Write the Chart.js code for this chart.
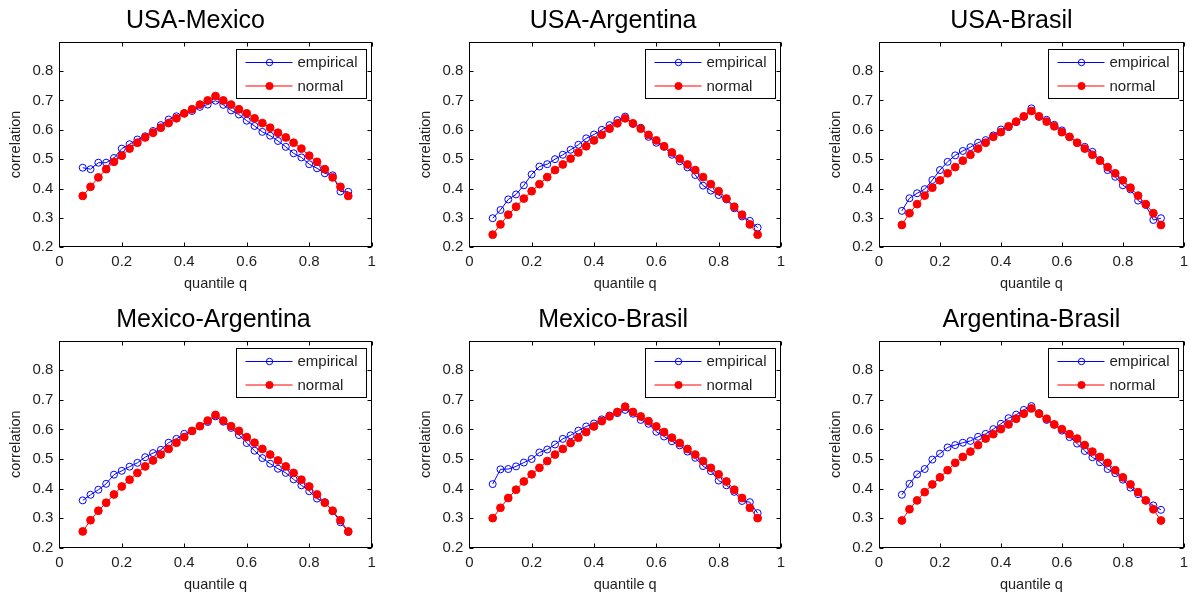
<!DOCTYPE html>
<html><head><meta charset="utf-8">
<script src="https://cdn.jsdelivr.net/npm/chart.js@4.4.0/dist/chart.umd.min.js"></script>
<style>
html,body{margin:0;padding:0;background:#fff;width:1194px;height:597px;overflow:hidden;}
canvas{position:absolute;}
</style></head><body>
<script>
// ---------------- data ----------------
const quantiles = [0.075,0.1,0.125,0.15,0.175,0.2,0.225,0.25,0.275,0.3,0.325,0.35,0.375,0.4,0.425,0.45,0.475,0.5,
                   0.525,0.55,0.575,0.6,0.625,0.65,0.675,0.7,0.725,0.75,0.775,0.8,0.825,0.85,0.875,0.9,0.925];
const xTicks = [0,0.2,0.4,0.6,0.8,1];
const yTicks = [0.2,0.3,0.4,0.5,0.6,0.7,0.8];
const panelTitles = ['USA-Mexico','USA-Argentina','USA-Brasil','Mexico-Argentina','Mexico-Brasil','Argentina-Brasil'];
const seriesNames = ['empirical','normal'];

const usaMexicoEmpirical = [0.471,0.466,0.488,0.488,0.504,0.536,0.551,0.567,0.578,0.596,0.616,0.635,0.646,0.656,0.664,0.678,0.686,0.699,
                            0.685,0.666,0.652,0.631,0.613,0.593,0.580,0.562,0.542,0.520,0.506,0.483,0.469,0.452,0.445,0.390,0.389];
const usaMexicoNormal = [0.375,0.406,0.438,0.466,0.491,0.512,0.536,0.556,0.574,0.590,0.607,0.623,0.639,0.656,0.670,0.686,0.700,0.715,
                         0.700,0.686,0.670,0.656,0.639,0.623,0.607,0.590,0.574,0.556,0.536,0.512,0.491,0.466,0.438,0.406,0.375];

const usaArgentinaEmpirical = [0.299,0.327,0.363,0.380,0.411,0.448,0.475,0.483,0.500,0.515,0.532,0.549,0.571,0.584,0.600,0.616,0.633,0.645,
                               0.620,0.607,0.576,0.556,0.542,0.515,0.493,0.472,0.446,0.410,0.393,0.378,0.363,0.333,0.305,0.290,0.267];
const usaArgentinaNormal = [0.243,0.278,0.311,0.338,0.366,0.391,0.415,0.439,0.463,0.482,0.502,0.523,0.544,0.564,0.583,0.604,0.622,0.639,
                            0.622,0.604,0.583,0.564,0.544,0.523,0.502,0.482,0.463,0.439,0.415,0.391,0.366,0.338,0.311,0.278,0.243];

const usaBrasilEmpirical = [0.324,0.367,0.384,0.398,0.429,0.463,0.491,0.513,0.528,0.541,0.556,0.565,0.581,0.601,0.609,0.626,0.644,0.673,
                            0.644,0.634,0.617,0.598,0.576,0.556,0.542,0.525,0.497,0.463,0.440,0.411,0.397,0.359,0.344,0.293,0.299];
const usaBrasilNormal = [0.276,0.316,0.347,0.376,0.403,0.428,0.452,0.473,0.495,0.515,0.536,0.556,0.576,0.592,0.612,0.628,0.646,0.664,
                         0.646,0.628,0.612,0.592,0.576,0.556,0.536,0.515,0.495,0.473,0.452,0.428,0.403,0.376,0.347,0.316,0.276];

const mexicoArgentinaEmpirical = [0.360,0.379,0.396,0.416,0.447,0.460,0.474,0.487,0.506,0.520,0.531,0.555,0.568,0.585,0.595,0.611,0.625,0.644,
                                  0.626,0.605,0.581,0.554,0.528,0.503,0.484,0.467,0.453,0.431,0.411,0.391,0.366,0.354,0.324,0.286,0.253];
const mexicoArgentinaNormal = [0.255,0.293,0.325,0.352,0.380,0.407,0.430,0.453,0.475,0.495,0.515,0.534,0.555,0.574,0.595,0.611,0.630,0.649,
                               0.630,0.611,0.595,0.574,0.555,0.534,0.515,0.495,0.475,0.453,0.430,0.407,0.380,0.352,0.325,0.293,0.255];

const mexicoBrasilEmpirical = [0.415,0.465,0.466,0.475,0.488,0.500,0.522,0.532,0.549,0.568,0.580,0.596,0.610,0.620,0.634,0.647,0.655,0.666,
                               0.653,0.632,0.619,0.592,0.576,0.560,0.546,0.525,0.504,0.476,0.459,0.427,0.411,0.389,0.358,0.354,0.317];
const mexicoBrasilNormal = [0.300,0.335,0.368,0.396,0.424,0.448,0.470,0.493,0.515,0.534,0.554,0.572,0.591,0.610,0.628,0.644,0.659,0.677,
                            0.659,0.644,0.628,0.610,0.591,0.572,0.554,0.534,0.515,0.493,0.470,0.448,0.424,0.396,0.368,0.335,0.300];

const argentinaBrasilEmpirical = [0.379,0.416,0.448,0.466,0.498,0.518,0.539,0.547,0.555,0.561,0.575,0.585,0.601,0.619,0.638,0.650,0.666,0.679,
                                  0.655,0.632,0.616,0.596,0.574,0.552,0.527,0.506,0.489,0.466,0.452,0.430,0.403,0.381,0.360,0.343,0.328];
const argentinaBrasilNormal = [0.292,0.330,0.360,0.388,0.414,0.438,0.462,0.487,0.507,0.525,0.547,0.569,0.584,0.601,0.617,0.636,0.653,0.671,
                               0.653,0.636,0.617,0.601,0.584,0.569,0.547,0.525,0.507,0.487,0.462,0.438,0.414,0.388,0.360,0.330,0.292];

const empiricalSeries = [usaMexicoEmpirical,usaArgentinaEmpirical,usaBrasilEmpirical,mexicoArgentinaEmpirical,mexicoBrasilEmpirical,argentinaBrasilEmpirical];
const normalSeries = [usaMexicoNormal,usaArgentinaNormal,usaBrasilNormal,mexicoArgentinaNormal,mexicoBrasilNormal,argentinaBrasilNormal];

// ---------------- layout (canvas box + plot-area edges inside it) ----------------
const layouts = [
  {x:0,   y:0,   w:400, h:297, L:59.3, R:371.7, T:41.7, B:247.3, shift:-20},
  {x:400, y:0,   w:400, h:297, L:69.3, R:381.0, T:41.7, B:247.3, shift:-12},
  {x:800, y:0,   w:394, h:297, L:79.0, R:390.0, T:41.7, B:247.3, shift:-20},
  {x:0,   y:297, w:400, h:300, L:59.3, R:371.7, T:43.7, B:250.7, shift:-2},
  {x:400, y:297, w:400, h:300, L:69.3, R:381.0, T:43.7, B:250.7, shift:-12},
  {x:800, y:297, w:394, h:300, L:79.0, R:390.0, T:43.7, B:250.7, shift:0}
];

const FONT = '"Liberation Sans", Arial, sans-serif';
const TEXT = '#1e1e1e';
const BLUE = '#0000ff';
const RED = '#ff0000';

const decor = {
  id: 'decor',
  afterDatasetsDraw(chart) {
    const {ctx, chartArea: a, scales: {x, y}} = chart;
    const o = chart.options.plugins.decor;
    ctx.save();
    const l = Math.round(a.left) + 0.5, r = Math.round(a.right) - 0.5;
    const t = Math.round(a.top) + 0.5, b = Math.round(a.bottom) - 0.5;
    ctx.strokeStyle = '#000';
    ctx.lineWidth = 1;
    ctx.beginPath();
    const tl = 4;
    x.ticks.forEach(tk => {
      const px = Math.round(x.getPixelForValue(tk.value)) + 0.5;
      ctx.moveTo(px, b); ctx.lineTo(px, b - tl);
      ctx.moveTo(px, t); ctx.lineTo(px, t + tl);
    });
    y.ticks.forEach(tk => {
      const py = Math.round(y.getPixelForValue(tk.value)) + 0.5;
      ctx.moveTo(l, py); ctx.lineTo(l + tl, py);
      ctx.moveTo(r, py); ctx.lineTo(r - tl, py);
    });
    ctx.stroke();
    ctx.strokeRect(l, t, r - l, b - t);

    // legend box
    const bw = 130, bh = 49;
    const bx = Math.round(a.right - 6 - bw) + 0.5, by = Math.round(a.top + 7) + 0.5;
    ctx.fillStyle = '#fff';
    ctx.fillRect(bx, by, bw, bh);
    ctx.strokeRect(bx, by, bw, bh);
    const rows = [chart.data.datasets.find(d => d.label === seriesNames[0]), chart.data.datasets.find(d => d.label === seriesNames[1])];
    rows.forEach((ds, i) => {
      const cy = by + 13 + i * 23.5;
      ctx.strokeStyle = ds.borderColor;
      ctx.lineWidth = 1;
      ctx.beginPath();
      ctx.moveTo(bx + 9, cy); ctx.lineTo(bx + 56, cy);
      ctx.stroke();
      ctx.beginPath();
      ctx.arc(bx + 33, cy, i === 0 ? 3.2 : 3.6, 0, Math.PI * 2);
      if (i === 1) { ctx.fillStyle = ds.backgroundColor; ctx.fill(); }
      ctx.stroke();
      ctx.fillStyle = TEXT;
      ctx.font = '15px ' + FONT;
      ctx.textAlign = 'left';
      ctx.textBaseline = 'middle';
      ctx.fillText(ds.label, bx + 61, cy + 0.5);
    });

    // title
    ctx.fillStyle = '#000';
    ctx.font = '25px ' + FONT;
    ctx.textAlign = 'center';
    ctx.textBaseline = 'alphabetic';
    ctx.fillText(o.title, (a.left + a.right) / 2 + o.shift, a.top - 14);
    ctx.restore();
  }
};

const fmt = v => String(Math.round(v * 10) / 10);

layouts.forEach((lo, i) => {
  const cv = document.createElement('canvas');
  cv.width = lo.w; cv.height = lo.h;
  cv.style.left = lo.x + 'px'; cv.style.top = lo.y + 'px';
  cv.style.width = lo.w + 'px'; cv.style.height = lo.h + 'px';
  document.body.appendChild(cv);

  const empirical = empiricalSeries[i], normal = normalSeries[i];
  new Chart(cv.getContext('2d'), {
    type: 'line',
    data: {
      datasets: [
        {
          label: seriesNames[1],
          data: quantiles.map((q, k) => ({x: q, y: normal[k]})),
          borderColor: RED, backgroundColor: RED, borderWidth: 1,
          pointRadius: 3.9, pointBorderWidth: 1, pointBackgroundColor: RED, pointBorderColor: RED,
          tension: 0, order: 0
        },
        {
          label: seriesNames[0],
          data: quantiles.map((q, k) => ({x: q, y: empirical[k]})),
          borderColor: BLUE, backgroundColor: 'rgba(0,0,0,0)', borderWidth: 1,
          pointRadius: 3.5, pointBorderWidth: 1, pointBackgroundColor: 'rgba(0,0,0,0)', pointBorderColor: BLUE,
          tension: 0, order: 1
        }
      ]
    },
    options: {
      responsive: false,
      animation: false,
      devicePixelRatio: 1,
      layout: {padding: {left: 0, top: lo.T, right: lo.w - lo.R, bottom: 0}},
      plugins: {
        legend: {display: false},
        title: {display: false},
        tooltip: {enabled: false},
        decor: {title: panelTitles[i], shift: lo.shift}
      },
      scales: {
        x: {
          type: 'linear', min: 0, max: 1,
          afterBuildTicks: s => { s.ticks = xTicks.map(v => ({value: v})); },
          afterFit: s => { s.height = lo.h - lo.B; },
          grid: {display: false, drawTicks: false},
          border: {display: false},
          ticks: {callback: fmt, color: TEXT, font: {family: FONT, size: 15}, padding: 6, maxRotation: 0, autoSkip: false},
          title: {display: true, text: 'quantile q', color: TEXT, font: {family: FONT, size: 14.5}, padding: {top: 0, bottom: (lo.h - lo.B) - 37 - 8.7}}
        },
        y: {
          type: 'linear', min: 0.2, max: 0.9,
          afterBuildTicks: s => { s.ticks = yTicks.map(v => ({value: v})); },
          afterFit: s => { s.width = lo.L; },
          grid: {display: false, drawTicks: false},
          border: {display: false},
          ticks: {callback: fmt, color: TEXT, font: {family: FONT, size: 15}, padding: 6, autoSkip: false},
          title: {display: true, text: 'correlation', color: TEXT, font: {family: FONT, size: 14.5}, padding: {top: lo.L - 43 - 8.7, bottom: 0}}
        }
      }
    },
    plugins: [decor]
  });
});
</script>
</body></html>
